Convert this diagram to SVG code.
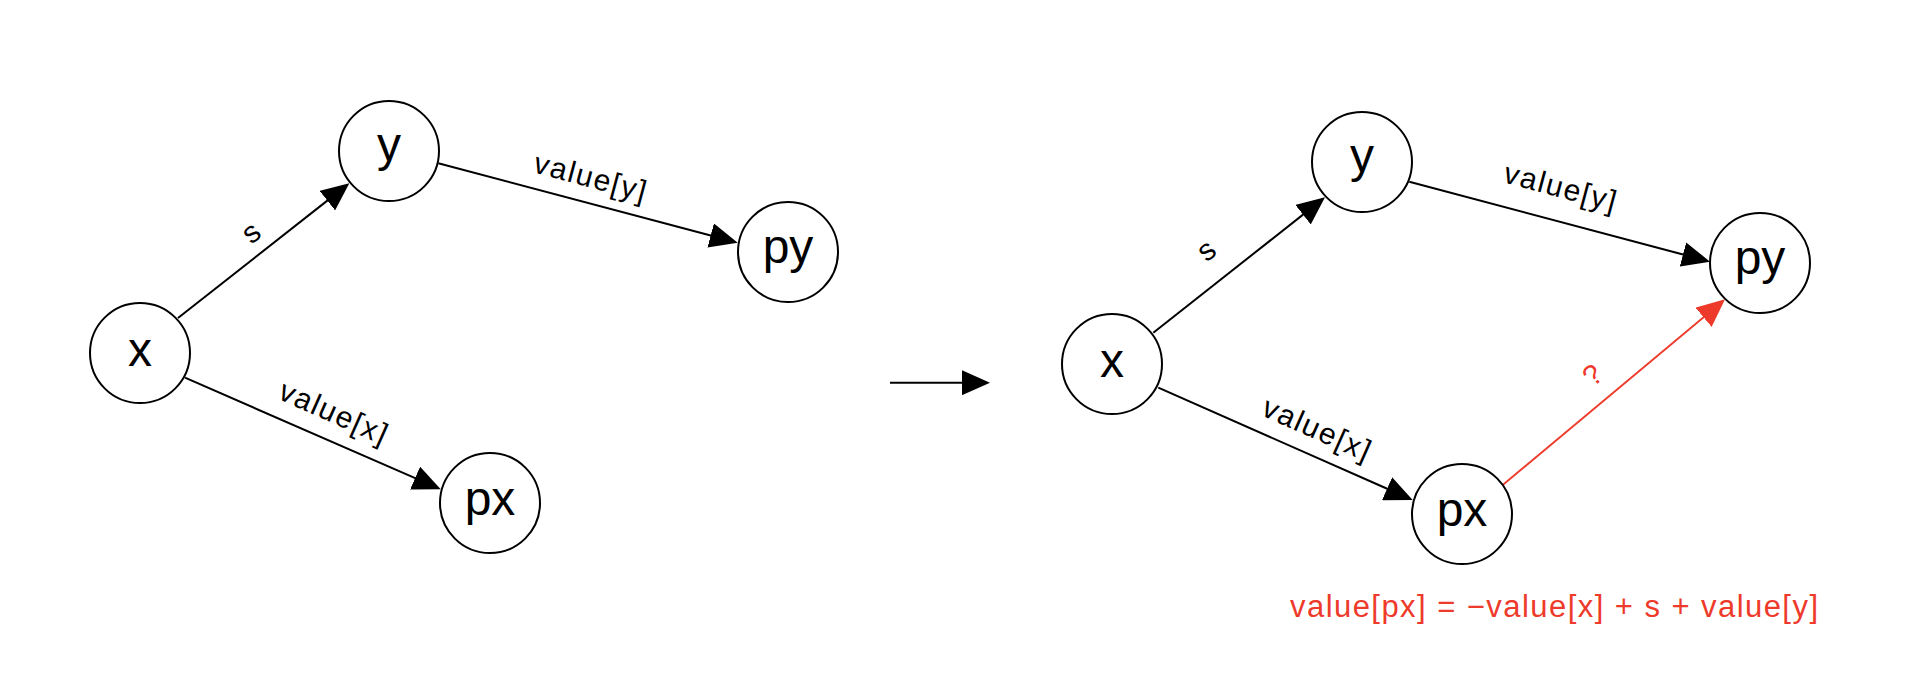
<svg xmlns="http://www.w3.org/2000/svg" width="1905" height="692" viewBox="0 0 1905 692">
<style>
.node circle{fill:#fff;stroke:#000;stroke-width:2}
.node text{font-family:"Liberation Sans",Arial,sans-serif;font-size:48px;fill:#000;text-anchor:middle}
.edge{stroke:#000;stroke-width:2;fill:none}
.red{stroke:#EE3A2B;stroke-width:1.8;fill:none}
.lbl{font-family:"Liberation Sans",Arial,sans-serif;font-size:30px;fill:#000;text-anchor:middle}
.rlbl{font-family:"Liberation Sans",Arial,sans-serif;font-size:29px;fill:#EE3A2B;text-anchor:middle}
</style>
<defs>
<marker id="ah" markerUnits="userSpaceOnUse" markerWidth="28" markerHeight="25" refX="2" refY="12.5" orient="auto" viewBox="0 0 28 25">
<path d="M0,0 L28,12.5 L0,25 z" fill="#000"/>
</marker>
<marker id="ahr" markerUnits="userSpaceOnUse" markerWidth="28" markerHeight="25" refX="2" refY="12.5" orient="auto" viewBox="0 0 28 25">
<path d="M0,0 L28,12.5 L0,25 z" fill="#EE3A2B"/>
</marker>
</defs>
<rect width="1905" height="692" fill="#fff"/>
<g id="connectors">
<line class="edge" x1="178" y1="318" x2="328.9" y2="199.4" marker-end="url(#ah)"/>
<line class="edge" x1="438.3" y1="163.3" x2="712.6" y2="236" marker-end="url(#ah)"/>
<line class="edge" x1="185" y1="377.7" x2="416.9" y2="478.9" marker-end="url(#ah)"/>
<line class="edge" x1="890" y1="382.7" x2="964" y2="382.7" marker-end="url(#ah)"/>
<line class="edge" x1="1153.3" y1="332.7" x2="1304.6" y2="213.4" marker-end="url(#ah)"/>
<line class="edge" x1="1409.3" y1="181.7" x2="1684.9" y2="255" marker-end="url(#ah)"/>
<line class="edge" x1="1158.3" y1="387.7" x2="1388.9" y2="489.5" marker-end="url(#ah)"/>
<line class="red" x1="1502.7" y1="485" x2="1705.1" y2="316" marker-end="url(#ahr)"/>
<text class="lbl" transform="translate(252.2,234) rotate(-38.3)" y="8">s</text>
<text class="lbl" transform="translate(589.7,179.2) rotate(15)" y="8" textLength="115" lengthAdjust="spacing">value[y]</text>
<text class="lbl" transform="translate(332.5,414.2) rotate(23.9)" y="8" textLength="115" lengthAdjust="spacing">value[x]</text>
<text class="lbl" transform="translate(1207.5,251.7) rotate(-38.3)" y="8">s</text>
<text class="lbl" transform="translate(1559.7,189.2) rotate(15)" y="8" textLength="115" lengthAdjust="spacing">value[y]</text>
<text class="lbl" transform="translate(1315.8,430.8) rotate(23.9)" y="8" textLength="115" lengthAdjust="spacing">value[x]</text>
<text class="rlbl" transform="translate(1592.5,375) rotate(-40)" y="10">?</text>
</g>
<g id="L-x" class="node"><circle cx="140" cy="353" r="50"/><text x="140" y="366">x</text></g>
<g id="L-y" class="node"><circle cx="389" cy="151" r="50"/><text x="389" y="161">y</text></g>
<g id="L-py" class="node"><circle cx="788" cy="252" r="50"/><text x="788" y="263">py</text></g>
<g id="L-px" class="node"><circle cx="490" cy="503" r="50"/><text x="490" y="515">px</text></g>
<g id="R-x" class="node"><circle cx="1112" cy="364" r="50"/><text x="1112" y="377">x</text></g>
<g id="R-y" class="node"><circle cx="1362" cy="162" r="50"/><text x="1362" y="172">y</text></g>
<g id="R-py" class="node"><circle cx="1760" cy="263" r="50"/><text x="1760" y="274">py</text></g>
<g id="R-px" class="node"><circle cx="1462" cy="514" r="50"/><text x="1462" y="526">px</text></g>
<g id="formula">
<text x="1290" y="617" font-family="Liberation Sans, Arial, sans-serif" font-size="31" fill="#EE3A2B" textLength="528" lengthAdjust="spacing">value[px] = −value[x] + s + value[y]</text>
</g>
</svg>
